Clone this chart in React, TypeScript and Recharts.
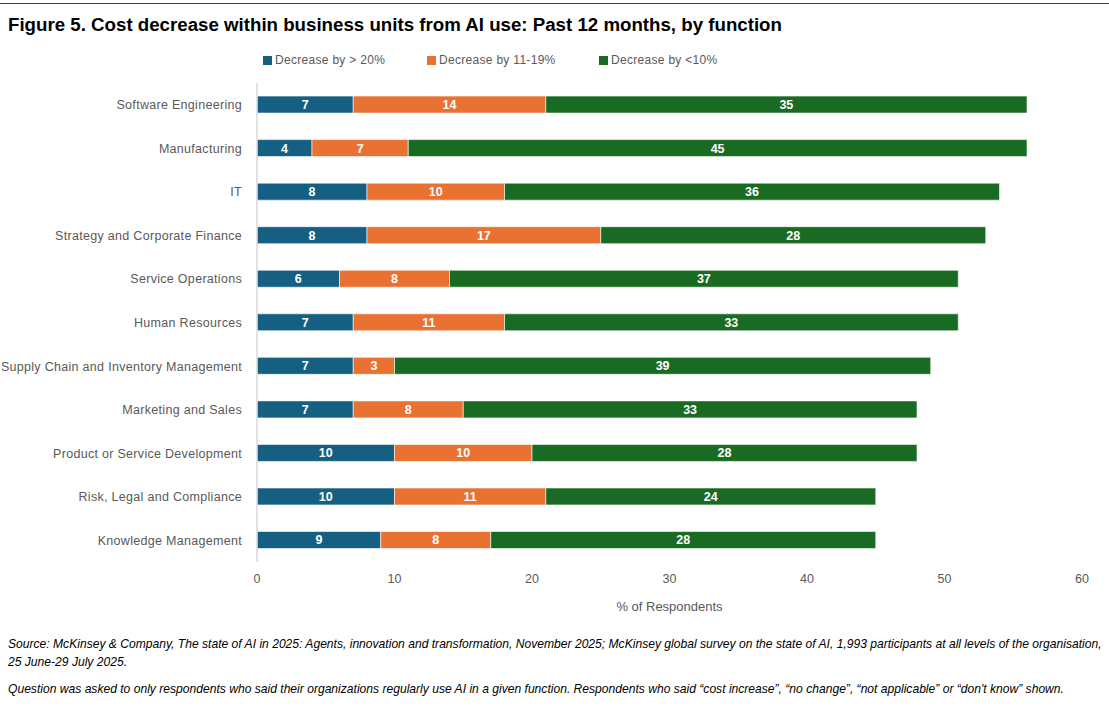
import React from "react";
import { BarChart, Bar, XAxis, YAxis, LabelList } from "recharts";

const categories = [
  "Software Engineering",
  "Manufacturing",
  "IT",
  "Strategy and Corporate Finance",
  "Service Operations",
  "Human Resources",
  "Supply Chain and Inventory Management",
  "Marketing and Sales",
  "Product or Service Development",
  "Risk, Legal and Compliance",
  "Knowledge Management",
];
const over20 = [7, 4, 8, 8, 6, 7, 7, 7, 10, 10, 9];
const mid11to19 = [14, 7, 10, 17, 8, 11, 3, 8, 10, 11, 8];
const under10 = [35, 45, 36, 28, 37, 33, 39, 33, 28, 24, 28];
const xTicks = [0, 10, 20, 30, 40, 50, 60];

const seriesNames = ["Decrease by > 20%", "Decrease by 11-19%", "Decrease by <10%"];
const colors = ["#156082", "#E97132", "#196B24"];

const data = categories.map((c, i) => ({
  name: c,
  a: over20[i],
  b: mid11to19[i],
  c: under10[i],
}));

const FONT = "'Liberation Sans', Arial, sans-serif";
const GRAY = "#595959";

const YTick = (props: any) => {
  const { x, y, payload } = props;
  return (
    <text x={x} y={y} dy="0.36em" textAnchor="end" fill={GRAY} fontSize={12.5} fontFamily={FONT} letterSpacing={0.3}>
      {payload.value}
    </text>
  );
};

export default function App() {
  return (
    <div style={{ position: "absolute", left: 0, top: 0, width: 1109, height: 707, background: "#fff", fontFamily: FONT }}>
      <div style={{ position: "absolute", left: 0, top: 3, width: 1109, height: 0, borderTop: "1.5px solid #404040" }} />
      <div style={{ position: "absolute", left: 8, top: 14, fontSize: 18.7, fontWeight: "bold", color: "#000", whiteSpace: "nowrap" }}>
        Figure 5. Cost decrease within business units from AI use: Past 12 months, by function
      </div>
      <div style={{ position: "absolute", left: 0, top: 0 }}>
        <BarChart
          width={1109}
          height={630}
          data={data}
          layout="vertical"
          margin={{ top: 83, right: 27, bottom: 18, left: 0 }}
          barCategoryGap="30%"
        >
          <XAxis
            type="number"
            domain={[0, 60]}
            ticks={xTicks}
            axisLine={false}
            tickLine={false}
            tickSize={6}
            tickMargin={6}
            height={50}
            tick={{ fill: GRAY, fontSize: 12.5, fontFamily: FONT }}
            label={{ value: "% of Respondents", position: "insideBottom", offset: 1, fill: GRAY, fontSize: 13, fontFamily: FONT }}
          />
          <YAxis
            type="category"
            dataKey="name"
            width={257}
            axisLine={{ stroke: "#d9d9d9", strokeWidth: 1.5 }}
            tickLine={false}
            tickSize={0}
            tickMargin={15}
            interval={0}
            tick={<YTick />}
          />
          {(["a", "b", "c"] as const).map((k, i) => (
            <Bar key={k} dataKey={k} stackId="s" name={seriesNames[i]} fill={colors[i]} stroke="#ffffff" strokeWidth={0.6} isAnimationActive={false}>
              <LabelList dataKey={k} position="center" fill="#ffffff" fontWeight="bold" fontSize={12.5} fontFamily={FONT} />
            </Bar>
          ))}
        </BarChart>
      </div>
      <div style={{ position: "absolute", left: 0, top: 53, width: 1109, height: 16 }}>
        {seriesNames.map((n, i) => (
          <div key={n} style={{ position: "absolute", left: [263, 427, 599][i], top: 0, display: "flex", alignItems: "center", whiteSpace: "nowrap" }}>
            <span style={{ display: "inline-block", width: 9, height: 9, background: colors[i], marginRight: 3 }} />
            <span style={{ fontSize: 12, color: GRAY, letterSpacing: 0.3 }}>{n}</span>
          </div>
        ))}
      </div>
      <div style={{ position: "absolute", left: 8, top: 635, width: 1100, fontSize: 12.1, fontStyle: "italic", color: "#000", fontFamily: FONT, lineHeight: "18px", whiteSpace: "nowrap" }}>
        <div>Source: McKinsey &amp; Company, The state of AI in 2025: Agents, innovation and transformation, November 2025; McKinsey global survey on the state of AI, 1,993 participants at all levels of the organisation,</div>
        <div>25 June-29 July 2025.</div>
        <div style={{ marginTop: 9 }}>Question was asked to only respondents who said their organizations regularly use AI in a given function. Respondents who said “cost increase”, “no change”, “not applicable” or “don't know” shown.</div>
      </div>
    </div>
  );
}
